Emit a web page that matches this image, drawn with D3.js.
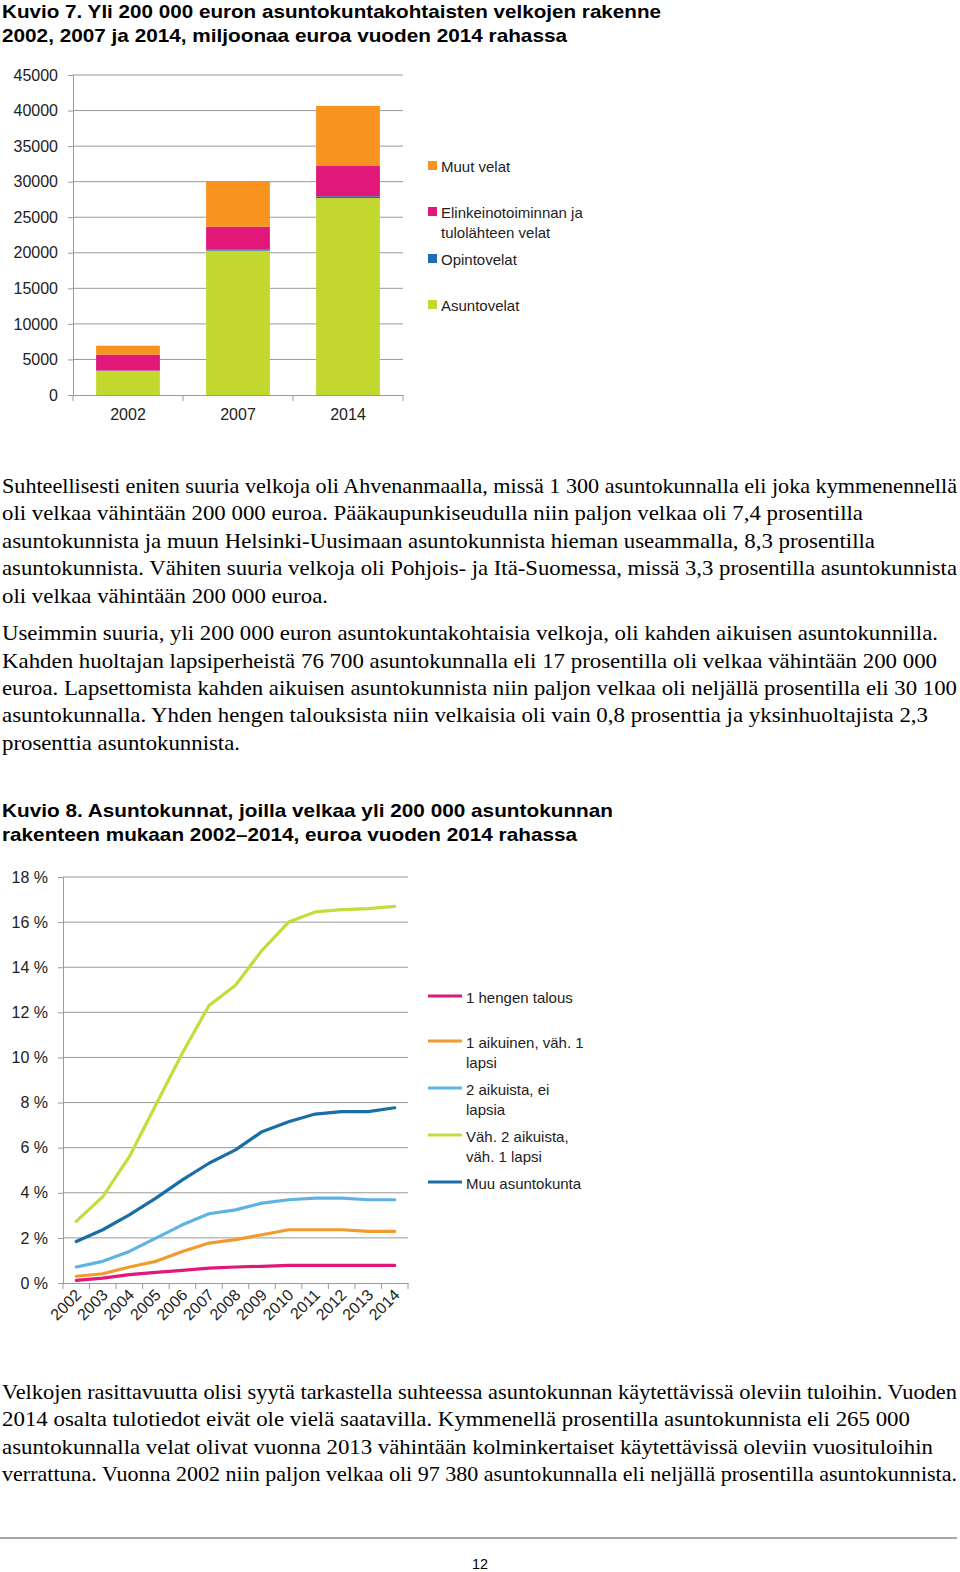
<!DOCTYPE html>
<html>
<head>
<meta charset="utf-8">
<script src="https://cdn.jsdelivr.net/npm/d3@7"></script>
<style>
  body { margin: 0; background: #fff; }
  svg { display: block; }
</style>
</head>
<body>
<svg id="page"></svg>
<script>
// ---- data: Kuvio 7 (milj. euroa) ----
var barYears = ["2002", "2007", "2014"];
var asuntovelat = [3400, 20300, 27700];
var opintovelat = [40, 120, 250];
var elinkeinovelat = [2230, 3250, 4250];
var muutvelat = [1270, 6430, 8450];
var barSeries = ["Asuntovelat", "Opintovelat", "Elinkeinotoiminnan ja tulolähteen velat", "Muut velat"];
var barTicks = [0, 5000, 10000, 15000, 20000, 25000, 30000, 35000, 40000, 45000];

// ---- data: Kuvio 8 (%) ----
var lineYears = ["2002", "2003", "2004", "2005", "2006", "2007", "2008", "2009", "2010", "2011", "2012", "2013", "2014"];
var hengenTalous = [0.12, 0.22, 0.37, 0.47, 0.56, 0.66, 0.71, 0.74, 0.78, 0.78, 0.78, 0.78, 0.78];
var yksiAikuinen = [0.30, 0.41, 0.71, 0.96, 1.40, 1.77, 1.92, 2.14, 2.36, 2.36, 2.36, 2.29, 2.29];
var kaksiEiLapsia = [0.71, 0.96, 1.40, 1.99, 2.58, 3.07, 3.24, 3.54, 3.69, 3.76, 3.76, 3.69, 3.69];
var kaksiLapsia = [2.73, 3.83, 5.60, 7.90, 10.2, 12.3, 13.2, 14.75, 16.0, 16.45, 16.55, 16.6, 16.7];
var muuAsuntokunta = [1.84, 2.36, 3.02, 3.76, 4.57, 5.31, 5.90, 6.71, 7.15, 7.49, 7.60, 7.60, 7.77];
var lineTicks = [0, 2, 4, 6, 8, 10, 12, 14, 16, 18];

var W = 960, H = 1572;
var svg = d3.select("#page").attr("width", W).attr("height", H);

var serif = "'Liberation Serif', 'Times New Roman', serif",
    sans = "'Liberation Sans', Arial, sans-serif";

// text lines: [text, y baseline, right end]
function textBlock(lines, font, size, weight) {
    lines.forEach(function (l) {
        svg.append("text")
            .attr("x", 2)
            .attr("y", l[1])
            .attr("font-family", font)
            .attr("font-size", size)
            .attr("font-weight", weight || "normal")
            .attr("fill", "#000")
            .attr("textLength", l[2] - 2)
            .attr("lengthAdjust", "spacingAndGlyphs")
            .text(l[0]);
    });
}

textBlock([
    ["Kuvio 7. Yli 200 000 euron asuntokuntakohtaisten velkojen rakenne", 18, 661],
    ["2002, 2007 ja 2014, miljoonaa euroa vuoden 2014 rahassa", 42, 567]
], sans, 19, "bold");

textBlock([
    ["Kuvio 8. Asuntokunnat, joilla velkaa yli 200 000 asuntokunnan", 817, 613],
    ["rakenteen mukaan 2002–2014, euroa vuoden 2014 rahassa", 841, 577]
], sans, 19, "bold");

textBlock([
    ["Suhteellisesti eniten suuria velkoja oli Ahvenanmaalla, missä 1 300 asuntokunnalla eli joka kymmenennellä", 493, 957],
    ["oli velkaa vähintään 200 000 euroa. Pääkaupunkiseudulla niin paljon velkaa oli 7,4 prosentilla", 520, 863],
    ["asuntokunnista ja muun Helsinki-Uusimaan asuntokunnista hieman useammalla, 8,3 prosentilla", 548, 875],
    ["asuntokunnista. Vähiten suuria velkoja oli Pohjois- ja Itä-Suomessa, missä 3,3 prosentilla asuntokunnista", 575, 957],
    ["oli velkaa vähintään 200 000 euroa.", 603, 328],
    ["Useimmin suuria, yli 200 000 euron asuntokuntakohtaisia velkoja, oli kahden aikuisen asuntokunnilla.", 640, 938],
    ["Kahden huoltajan lapsiperheistä 76 700 asuntokunnalla eli 17 prosentilla oli velkaa vähintään 200 000", 668, 937],
    ["euroa. Lapsettomista kahden aikuisen asuntokunnista niin paljon velkaa oli neljällä prosentilla eli 30 100", 695, 957],
    ["asuntokunnalla. Yhden hengen talouksista niin velkaisia oli vain 0,8 prosenttia ja yksinhuoltajista 2,3", 722, 928],
    ["prosenttia asuntokunnista.", 750, 240],
    ["Velkojen rasittavuutta olisi syytä tarkastella suhteessa asuntokunnan käytettävissä oleviin tuloihin. Vuoden", 1399, 957],
    ["2014 osalta tulotiedot eivät ole vielä saatavilla. Kymmenellä prosentilla asuntokunnista eli 265 000", 1426, 910],
    ["asuntokunnalla velat olivat vuonna 2013 vähintään kolminkertaiset käytettävissä oleviin vuosituloihin", 1454, 933],
    ["verrattuna. Vuonna 2002 niin paljon velkaa oli 97 380 asuntokunnalla eli neljällä prosentilla asuntokunnista.", 1481, 957]
], serif, 21);

// ---------------- Kuvio 7: stacked bars ----------------
var bx = d3.scaleBand().domain(barYears).range([73, 403]);
var by = d3.scaleLinear().domain([0, 45000]).range([395, 75]);
var barColors = ["#c3d82e", "#1f6db5", "#e2177a", "#f7931e"];

var g1 = svg.append("g");
g1.selectAll(".grid").data(barTicks.slice(1)).enter().append("line")
    .attr("x1", 73).attr("x2", 403)
    .attr("y1", d => by(d)).attr("y2", d => by(d))
    .attr("stroke", "#9a9a9a").attr("stroke-width", 1);

var table = barYears.map(function (y, i) {
    return { year: y, Asuntovelat: asuntovelat[i], Opintovelat: opintovelat[i],
        "Elinkeinotoiminnan ja tulolähteen velat": elinkeinovelat[i], "Muut velat": muutvelat[i] };
});
var stacked = d3.stack().keys(barSeries)(table);
var bw = bx.bandwidth() * 0.58;
stacked.forEach(function (s, k) {
    g1.selectAll(".bar" + k).data(s).enter().append("rect")
        .attr("x", d => bx(d.data.year) + (bx.bandwidth() - bw) / 2)
        .attr("width", bw)
        .attr("y", d => by(d[1]))
        .attr("height", d => by(d[0]) - by(d[1]))
        .attr("fill", barColors[k]);
});

var yAx1 = g1.append("g").attr("transform", "translate(73,0)")
    .call(d3.axisLeft(by).tickValues(barTicks).tickFormat(d3.format("d")).tickSize(5).tickPadding(10));
var xAx1 = g1.append("g").attr("transform", "translate(0,395)")
    .call(d3.axisBottom(bx).tickSize(0).tickPadding(14));
// category boundary ticks
g1.selectAll(".xt").data(barYears.concat(["end"])).enter().append("line")
    .attr("x1", (d, i) => 73 + i * bx.step()).attr("x2", (d, i) => 73 + i * bx.step())
    .attr("y1", 395).attr("y2", 401).attr("stroke", "#9a9a9a");

[yAx1, xAx1].forEach(function (a) {
    a.selectAll("path, line").attr("stroke", "#9a9a9a");
    a.selectAll("text").attr("font-family", sans).attr("font-size", 16).attr("fill", "#222");
});

// legend
var leg1 = [
    { c: 3, lines: ["Muut velat"], y: 166 },
    { c: 2, lines: ["Elinkeinotoiminnan ja", "tulolähteen velat"], y: 212 },
    { c: 1, lines: ["Opintovelat"], y: 259 },
    { c: 0, lines: ["Asuntovelat"], y: 305 }
];
leg1.forEach(function (l) {
    svg.append("rect").attr("x", 428).attr("y", l.y - 5).attr("width", 9).attr("height", 9)
        .attr("fill", barColors[l.c]);
    l.lines.forEach(function (t, j) {
        svg.append("text").attr("x", 441).attr("y", l.y + 6 + j * 20)
            .attr("font-family", sans).attr("font-size", 15).attr("fill", "#222").text(t);
    });
});

// ---------------- Kuvio 8: lines ----------------
var lx = d3.scaleBand().domain(lineYears).range([63, 408]);
var ly = d3.scaleLinear().domain([0, 18]).range([1283, 877]);

var g2 = svg.append("g");
g2.selectAll(".grid").data(lineTicks.slice(1)).enter().append("line")
    .attr("x1", 63).attr("x2", 408)
    .attr("y1", d => ly(d)).attr("y2", d => ly(d))
    .attr("stroke", "#9a9a9a");

var yAx2 = g2.append("g").attr("transform", "translate(63,0)")
    .call(d3.axisLeft(ly).tickValues(lineTicks).tickFormat(d => d + " %").tickSize(5).tickPadding(10));
var xAx2 = g2.append("g").attr("transform", "translate(0,1283)")
    .call(d3.axisBottom(lx).tickSize(0).tickFormat(""));
g2.selectAll(".xt").data(lineYears.concat(["end"])).enter().append("line")
    .attr("x1", (d, i) => 63 + i * lx.step()).attr("x2", (d, i) => 63 + i * lx.step())
    .attr("y1", 1283).attr("y2", 1289).attr("stroke", "#9a9a9a");
g2.selectAll(".xl").data(lineYears).enter().append("text")
    .attr("transform", d => "translate(" + (lx(d) + lx.bandwidth() / 2 + 6) + ",1296) rotate(-45)")
    .attr("text-anchor", "end")
    .attr("font-family", sans).attr("font-size", 16).attr("fill", "#222")
    .text(d => d);

[yAx2, xAx2].forEach(function (a) {
    a.selectAll("path, line").attr("stroke", "#9a9a9a");
    a.selectAll("text").attr("font-family", sans).attr("font-size", 16).attr("fill", "#222");
});

var lineSeries = [
    { name: ["1 hengen talous"], values: hengenTalous, color: "#e0187a", y: 996 },
    { name: ["1 aikuinen, väh. 1", "lapsi"], values: yksiAikuinen, color: "#f39a2e", y: 1041 },
    { name: ["2 aikuista, ei", "lapsia"], values: kaksiEiLapsia, color: "#5cb3e4", y: 1088 },
    { name: ["Väh. 2 aikuista,", "väh. 1 lapsi"], values: kaksiLapsia, color: "#c5dc3c", y: 1135 },
    { name: ["Muu asuntokunta"], values: muuAsuntokunta, color: "#1a6ea5", y: 1182 }
];
var line = d3.line()
    .x((d, i) => lx(lineYears[i]) + lx.bandwidth() / 2)
    .y(d => ly(d));

lineSeries.forEach(function (s) {
    g2.append("path").datum(s.values)
        .attr("d", line)
        .attr("fill", "none")
        .attr("stroke", s.color)
        .attr("stroke-width", 3.2)
        .attr("stroke-linejoin", "round")
        .attr("stroke-linecap", "round");
    svg.append("line").attr("x1", 428).attr("x2", 462).attr("y1", s.y).attr("y2", s.y)
        .attr("stroke", s.color).attr("stroke-width", 3.2);
    s.name.forEach(function (t, j) {
        svg.append("text").attr("x", 466).attr("y", s.y + 7 + j * 20)
            .attr("font-family", sans).attr("font-size", 15).attr("fill", "#222").text(t);
    });
});

// page footer
svg.append("line").attr("x1", 0).attr("x2", 957).attr("y1", 1538).attr("y2", 1538)
    .attr("stroke", "#888").attr("stroke-width", 1.5);
svg.append("text").attr("x", 480).attr("y", 1569).attr("text-anchor", "middle")
    .attr("font-family", sans).attr("font-size", 15).attr("fill", "#000")
    .attr("textLength", 16).attr("lengthAdjust", "spacingAndGlyphs").text("12");
</script>
</body>
</html>
